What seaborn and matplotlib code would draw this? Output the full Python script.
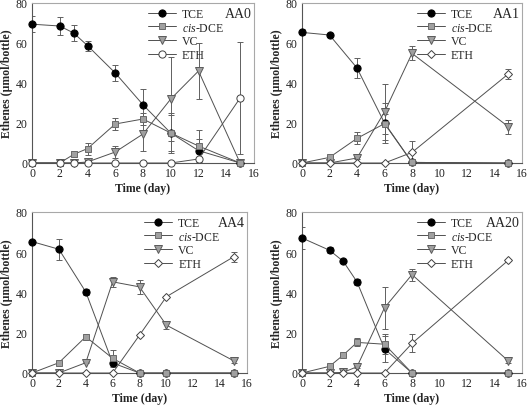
import numpy as np
import pandas as pd
import matplotlib
matplotlib.use("Agg")
import matplotlib.pyplot as plt
import seaborn as sns

# ---------------- data ----------------
panels = ["AA0", "AA1", "AA4", "AA20"]
series = ["TCE", "cis-DCE", "VC", "ETH"]

days_AA0 = [0, 2, 3, 4, 6, 8, 10, 12, 15]
tce_AA0 = [69.4, 68.5, 65.0, 58.7, 45.0, 29.1, 15.0, 6.2, 0.0]
tce_err_AA0 = [4.0, 4.5, 4.0, 2.5, 4.0, 8.0, 10.0, 6.0, 0.0]
dce_AA0 = [0.0, 0.0, 4.3, 7.2, 19.5, 22.0, 15.0, 8.5, 0.0]
dce_err_AA0 = [0.0, 0.0, 1.5, 3.0, 3.0, 3.0, 9.0, 8.0, 0.0]
vc_AA0 = [0.0, 0.0, 0.0, 0.5, 5.5, 14.5, 32.0, 46.0, 0.0]
vc_err_AA0 = [0.0, 0.0, 0.0, 0.5, 3.0, 8.5, 21.0, 14.0, 0.0]
eth_AA0 = [0.0, 0.0, 0.0, 0.0, 0.0, 0.0, 0.0, 2.0, 32.5]
eth_err_AA0 = [0.0, 0.0, 0.0, 0.0, 0.0, 0.0, 0.0, 0.0, 28.0]

days_AA1 = [0, 2, 4, 6, 8, 15]
tce_AA1 = [65.3, 64.0, 47.5, 20.0, 0.3, 0.0]
tce_err_AA1 = [1.5, 1.0, 5.0, 10.0, 0.0, 0.0]
dce_AA1 = [0.0, 2.8, 12.3, 19.7, 0.3, 0.0]
dce_err_AA1 = [0.0, 0.5, 3.0, 5.0, 0.0, 0.0]
vc_AA1 = [0.0, 0.0, 2.5, 25.5, 54.8, 18.2]
vc_err_AA1 = [0.0, 0.0, 0.5, 14.0, 3.5, 3.5]
eth_AA1 = [0.0, 0.0, 0.0, 0.0, 5.3, 44.5]
eth_err_AA1 = [0.0, 0.0, 0.0, 0.0, 5.5, 2.5]

days_AA4 = [0, 2, 4, 6, 8, 10, 15]
tce_AA4 = [65.3, 61.5, 40.3, 5.0, 0.0, 0.0, 0.0]
tce_err_AA4 = [0.5, 5.2, 1.5, 2.0, 0.0, 0.0, 0.0]
dce_AA4 = [0.0, 5.1, 18.0, 7.3, 0.0, 0.0, 0.0]
dce_err_AA4 = [0.0, 0.3, 1.5, 4.0, 0.0, 0.0, 0.0]
vc_AA4 = [0.0, 0.0, 5.1, 45.3, 42.8, 23.8, 6.1]
vc_err_AA4 = [0.0, 0.0, 0.3, 2.5, 3.5, 2.0, 1.0]
eth_AA4 = [0.0, 0.0, 0.0, 0.0, 18.8, 37.9, 57.7]
eth_err_AA4 = [0.0, 0.0, 0.0, 0.0, 0.5, 0.5, 2.5]

days_AA20 = [0, 2, 3, 4, 6, 8, 15]
tce_AA20 = [67.1, 61.0, 55.5, 45.3, 12.0, 0.0, 0.0]
tce_err_AA20 = [5.5, 1.5, 0.5, 1.5, 6.5, 0.0, 0.0]
dce_AA20 = [0.0, 3.3, 8.9, 15.2, 14.3, 0.0, 0.0]
dce_err_AA20 = [0.0, 0.3, 0.5, 2.0, 5.0, 0.0, 0.0]
vc_AA20 = [0.0, 0.0, 0.3, 3.1, 32.4, 48.9, 6.0]
vc_err_AA20 = [0.0, 0.0, 0.0, 0.5, 10.3, 3.0, 1.0]
eth_AA20 = [0.0, 0.0, 0.0, 0.0, 0.0, 14.7, 56.0]
eth_err_AA20 = [0.0, 0.0, 0.0, 0.0, 0.0, 4.5, 0.5]

x_ticks = [0, 2, 4, 6, 8, 10, 12, 14, 16]
y_ticks = [0, 20, 40, 60, 80]

# -------------- assemble long table --------------
raw = {
    "AA0": (days_AA0, [(tce_AA0, tce_err_AA0), (dce_AA0, dce_err_AA0), (vc_AA0, vc_err_AA0), (eth_AA0, eth_err_AA0)]),
    "AA1": (days_AA1, [(tce_AA1, tce_err_AA1), (dce_AA1, dce_err_AA1), (vc_AA1, vc_err_AA1), (eth_AA1, eth_err_AA1)]),
    "AA4": (days_AA4, [(tce_AA4, tce_err_AA4), (dce_AA4, dce_err_AA4), (vc_AA4, vc_err_AA4), (eth_AA4, eth_err_AA4)]),
    "AA20": (days_AA20, [(tce_AA20, tce_err_AA20), (dce_AA20, dce_err_AA20), (vc_AA20, vc_err_AA20), (eth_AA20, eth_err_AA20)]),
}
rows = []
for p, (days, lst) in raw.items():
    for s, (vals, errs) in zip(series, lst):
        for d, v, e in zip(days, vals, errs):
            rows.append({"panel": p, "series": s, "day": d, "value": v, "err": e})
df = pd.DataFrame(rows)

# -------------- style --------------
sns.set_style("white")
plt.rcParams["font.family"] = ["Liberation Serif", "DejaVu Serif"]
plt.rcParams["mathtext.fontset"] = "custom"
plt.rcParams["mathtext.it"] = "Liberation Serif:italic"
plt.rcParams["mathtext.rm"] = "Liberation Serif"

line_col = "#505050"
face = {"TCE": "black", "cis-DCE": "#a0a0a0", "VC": "#a0a0a0", "ETH": "white"}
edge = {"TCE": "black", "cis-DCE": "#6a6a6a", "VC": "#5a5a5a", "ETH": "#404040"}
labels = {"TCE": "TCE", "cis-DCE": r"$\it{cis}$-DCE", "VC": "VC", "ETH": "ETH"}
zord = {"TCE": 3.0, "VC": 3.1, "cis-DCE": 3.2, "ETH": 3.3}

fig = plt.figure(figsize=(5.28, 4.06), dpi=100)
W, H = 528, 406
boxes = {
    "AA0": (32, 4, 254, 164),
    "AA1": (302, 4, 522, 164),
    "AA4": (32, 213, 247, 374),
    "AA20": (302, 213, 522, 374),
}

for p in panels:
    x0, y0, x1, y1 = boxes[p]
    ax = fig.add_axes([x0 / W, 1 - y1 / H, (x1 - x0) / W, (y1 - y0) / H])
    sub = df[df.panel == p]
    eth_marker = "o" if p == "AA0" else "D"
    markers = {"TCE": "o", "cis-DCE": "s", "VC": "v", "ETH": eth_marker}
    msize = {"TCE": 5.2, "cis-DCE": 4.6, "VC": 5.2, "ETH": 5.2 if p == "AA0" else 4.4}
    for s in series:
        d = sub[sub.series == s]
        ax.errorbar(d.day, d.value, yerr=d.err, fmt="none", ecolor="#606060",
                    elinewidth=0.7, capsize=2.3, capthick=0.7, zorder=2)
    for s in series:
        d = sub[sub.series == s]
        sns.lineplot(data=d, x="day", y="value", ax=ax, color=line_col, linewidth=0.7,
                     marker=markers[s], markersize=msize[s], markerfacecolor=face[s],
                     markeredgecolor=edge[s], markeredgewidth=0.7, label=labels[s],
                     estimator=None, errorbar=None, zorder=zord[s], clip_on=False)
    ax.set_xlim(0, 16)
    ax.set_ylim(0, 80)
    ax.set_xticks(x_ticks)
    ax.set_yticks(y_ticks)
    ax.tick_params(axis="both", direction="in", length=2.5, width=0.6, labelsize=8.5,
                   pad=3, colors="#333333", labelcolor="#222222")
    for side in ["left", "bottom"]:
        ax.spines[side].set_color("#555555")
        ax.spines[side].set_linewidth(0.8)
    for side in ["top", "right"]:
        ax.spines[side].set_color("#a8a8a8")
        ax.spines[side].set_linewidth(0.8)
    ax.set_xlabel("Time (day)", fontsize=8.5, fontweight="bold", labelpad=2)
    ax.set_ylabel("Ethenes (\u00b5mol/bottle)", fontsize=8.5, fontweight="bold", labelpad=2)
    ax.text(0.99, 0.975, p, transform=ax.transAxes, ha="right", va="top", fontsize=10)
    leg = ax.legend(loc="upper left", bbox_to_anchor=(0.51, 0.985), frameon=False,
                    fontsize=8.5, handlelength=2.4, handletextpad=0.5, labelspacing=0.15,
                    borderpad=0.2, borderaxespad=0)

fig.savefig("out.png", dpi=100)
